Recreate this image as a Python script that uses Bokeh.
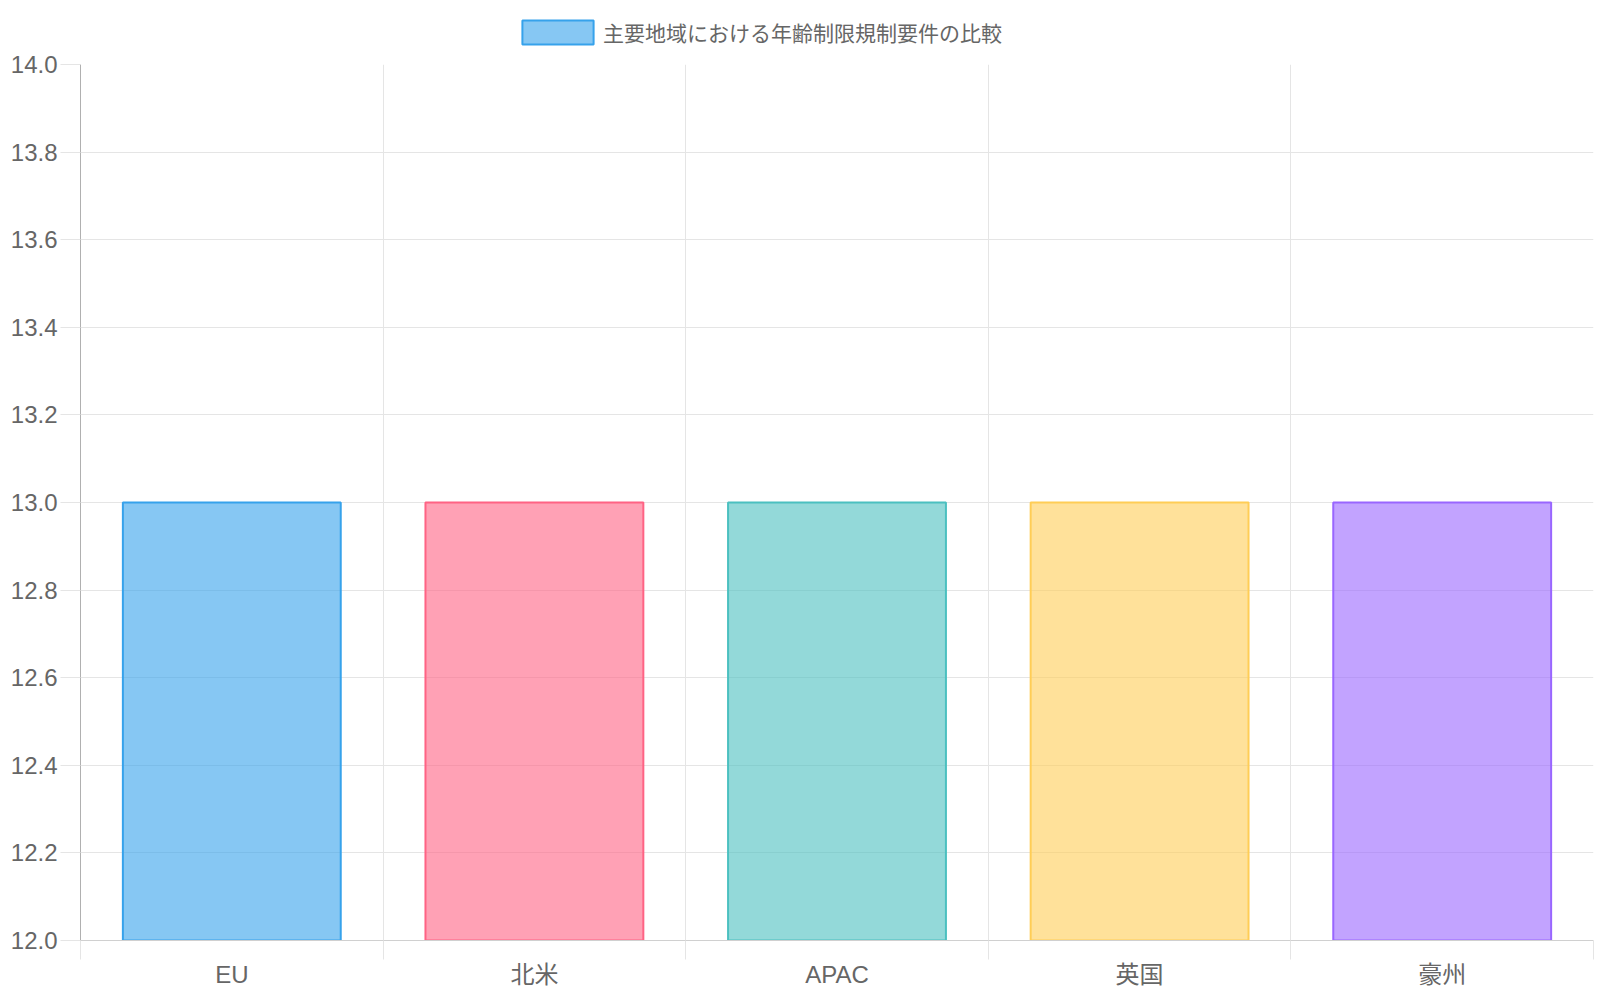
from bokeh.plotting import figure
from bokeh.layouts import column
from bokeh.models import ColumnDataSource, FixedTicker, Legend, LegendItem, Range1d, NumeralTickFormatter
from bokeh.embed import file_html
from bokeh.resources import INLINE

categories = ["EU", "北米", "APAC", "英国", "豪州"]
values = [13, 13, 13, 13, 13]
series_name = "主要地域における年齢制限規制要件の比較"
fill_colors = ["rgba(54,162,235,0.6)", "rgba(255,99,132,0.6)", "rgba(75,192,192,0.6)",
               "rgba(255,205,86,0.6)", "rgba(153,102,255,0.6)"]
line_colors = ["rgb(54,162,235)", "rgb(255,99,132)", "rgb(75,192,192)",
               "rgb(255,205,86)", "rgb(153,102,255)"]
y_ticks = [12.0, 12.2, 12.4, 12.6, 12.8, 13.0, 13.2, 13.4, 13.6, 13.8, 14.0]

FONT = "Liberation Sans, Helvetica Neue, Arial, Noto Sans CJK JP, sans-serif"

x_pos = [i + 0.5 for i in range(len(categories))]
src = ColumnDataSource(dict(x=x_pos, top=values, fill=fill_colors, line=line_colors, cat=categories))

# ---- legend strip (Chart.js style legend above the chart) ----
lf = figure(width=1600, height=47, output_backend="svg", toolbar_location=None,
            x_range=Range1d(0, len(categories)), y_range=Range1d(0, 1),
            x_axis_type=None, y_axis_type=None,
            min_border_left=0, min_border_right=0, min_border_top=0, min_border_bottom=0)
lf.outline_line_color = None
lf.xgrid.visible = False
lf.ygrid.visible = False
lf.border_fill_color = "white"
lr = lf.vbar(x="x", top="top", bottom=y_ticks[0], width=0.72, source=src,
             fill_color="fill", line_color="line", line_width=2, visible=False)
legend = Legend(items=[LegendItem(label=series_name, renderers=[lr], index=0)],
                location=(433, 0), orientation="horizontal",
                glyph_width=89, glyph_height=30, label_height=30, label_standoff=1,
                padding=0, margin=0, spacing=0,
                border_line_alpha=0, background_fill_alpha=0,
                inactive_fill_alpha=0,
                label_text_font=FONT, label_text_font_size="21px", label_text_color="#666666")
lf.add_layout(legend, "center")

# ---- main chart ----
p = figure(width=1600, height=953, output_backend="svg", toolbar_location=None,
           x_range=Range1d(0, len(categories)), y_range=Range1d(y_ticks[0], y_ticks[-1]),
           min_border_left=80, min_border_right=7, min_border_top=17, min_border_bottom=60)
p.outline_line_color = None
p.background_fill_color = "white"
p.border_fill_color = "white"

r = p.vbar(x="x", top="top", bottom=y_ticks[0], width=0.72, source=src,
           fill_color="fill", line_color="line", line_width=2)

p.xgrid.ticker = FixedTicker(ticks=list(range(len(categories) + 1)))
p.xgrid.grid_line_color = "#e5e5e5"
p.xgrid.grid_line_width = 1
p.ygrid.ticker = FixedTicker(ticks=y_ticks)
p.ygrid.grid_line_color = "#e5e5e5"

xa = p.xaxis[0]
xa.ticker = FixedTicker(ticks=x_pos, minor_ticks=list(range(len(categories) + 1)))
xa.major_label_overrides = {x: c for x, c in zip(x_pos, categories)}
xa.major_tick_line_color = None
xa.major_tick_out = 0
xa.major_tick_in = 0
xa.minor_tick_out = 19
xa.minor_tick_in = 0
xa.minor_tick_line_color = "#e5e5e5"
xa.axis_line_color = "#d0d0d0"
xa.major_label_standoff = 1
xa.major_label_text_font = FONT
xa.major_label_text_font_size = "24px"
xa.major_label_text_color = "#666666"

ya = p.yaxis[0]
ya.ticker = FixedTicker(ticks=y_ticks)
ya.formatter = NumeralTickFormatter(format="0.0")
ya.major_tick_out = 20
ya.major_tick_in = 0
ya.major_tick_line_color = "#e5e5e5"
ya.minor_tick_line_color = None
ya.axis_line_color = "#b0b0b0"
ya.major_label_standoff = 3
ya.major_label_text_font = FONT
ya.major_label_text_font_size = "24px"
ya.major_label_text_color = "#666666"

layout = column(lf, p, spacing=0)
open("out.html", "w").write(file_html(layout, INLINE))
